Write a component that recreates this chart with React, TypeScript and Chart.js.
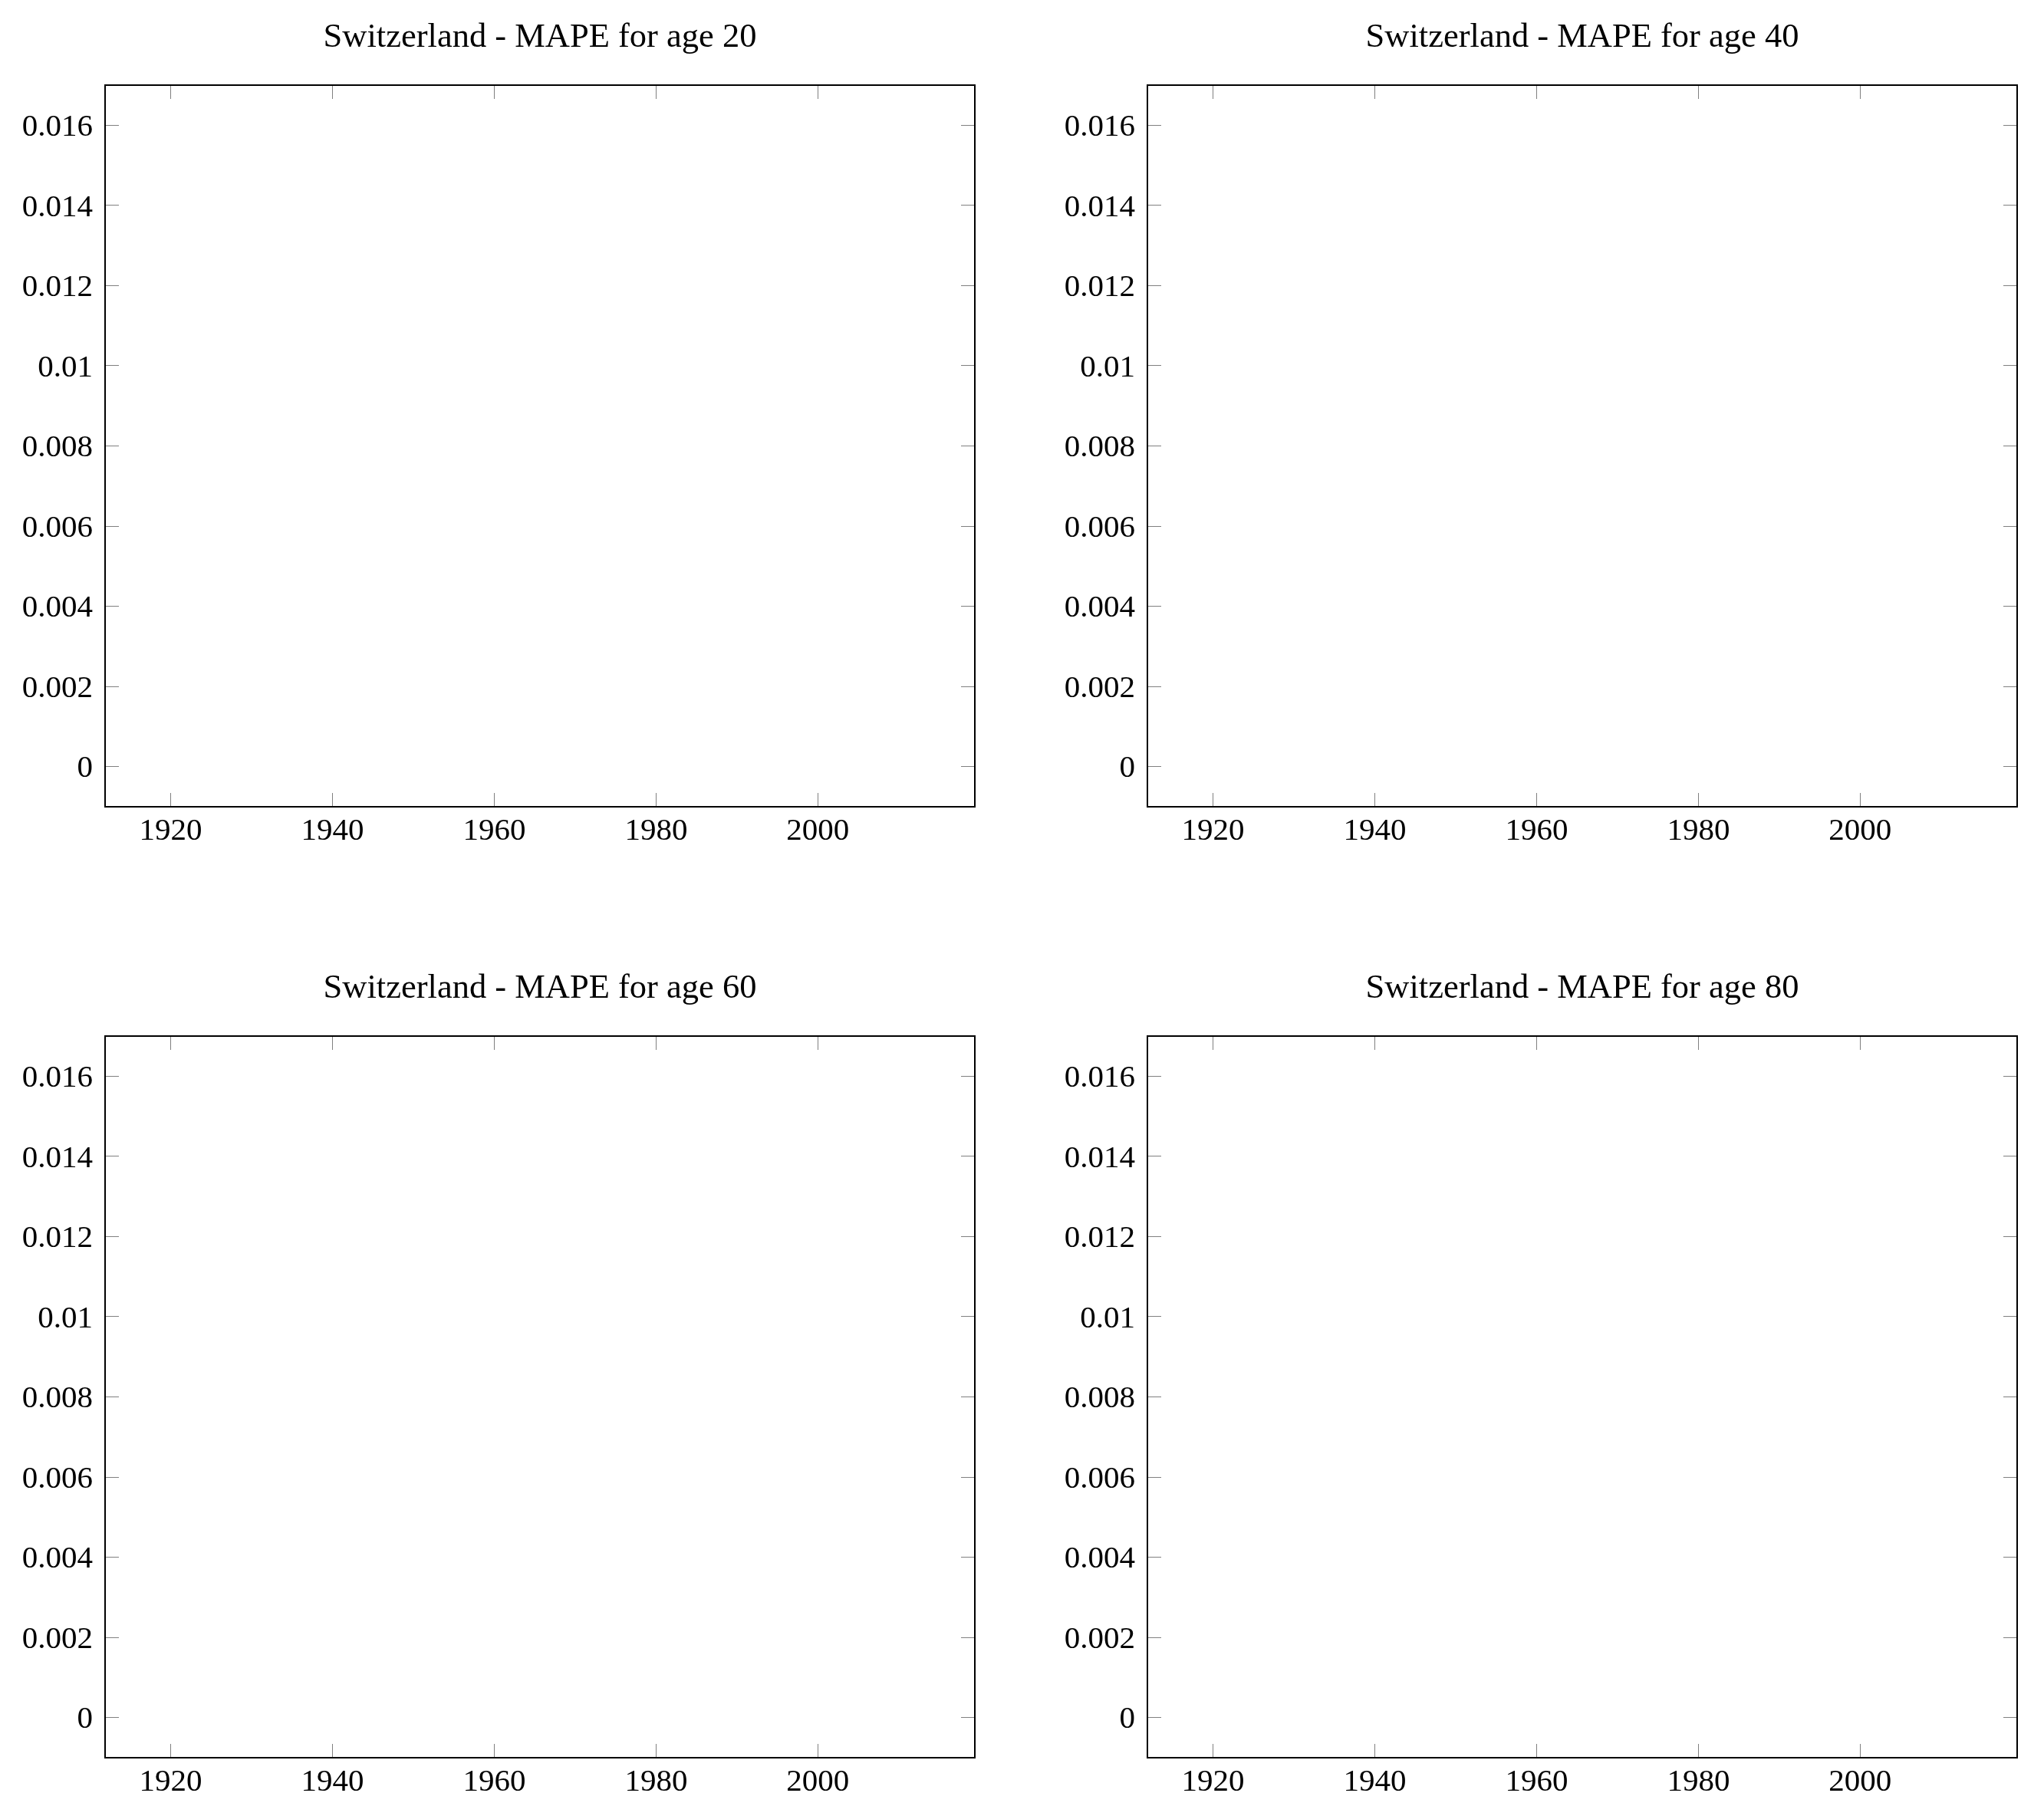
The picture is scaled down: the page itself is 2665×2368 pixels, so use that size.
import { useEffect, useRef } from "react";
import { Chart, registerables } from "chart.js";

Chart.register(...registerables);

// ---- data -------------------------------------------------------------
const COUNTRY = "Switzerland";
const AGES = [20, 40, 60, 80];

// Yearly MAPE series per age (no observations are drawn in these panels)
const mapeAge20: { x: number; y: number }[] = [];
const mapeAge40: { x: number; y: number }[] = [];
const mapeAge60: { x: number; y: number }[] = [];
const mapeAge80: { x: number; y: number }[] = [];
const SERIES = [mapeAge20, mapeAge40, mapeAge60, mapeAge80];

const YEAR_TICKS = [1920, 1940, 1960, 1980, 2000];
const MAPE_TICKS = [0, 0.002, 0.004, 0.006, 0.008, 0.01, 0.012, 0.014, 0.016];
const YEAR_RANGE = [1911.9, 2019.4];
const MAPE_RANGE = [-0.001, 0.017];

// ---- styling ----------------------------------------------------------
const SERIF = "'Liberation Serif', 'Times New Roman', serif";
const CANVAS_W = 1300;
const CANVAS_H = 1120;
const PANEL_POS = [
  { left: 0, top: 0 },
  { left: 1359, top: 0 },
  { left: 0, top: 1240 },
  { left: 1359, top: 1240 },
];

function MapePanel({ age, points }: { age: number; points: { x: number; y: number }[] }) {
  const ref = useRef<HTMLCanvasElement>(null);

  useEffect(() => {
    const canvas = ref.current;
    if (!canvas) return;

    const tickFont = { family: SERIF, size: 41, weight: "normal" as const };
    const frame = { display: true, color: "#000000", width: 2 };
    // inward-pointing grey tick marks, no grid lines across the plot
    const grid = {
      drawOnChartArea: false,
      drawTicks: true,
      tickLength: -18,
      color: "#808080",
      lineWidth: 1,
    };
    const useTicks = (values: number[]) => (scale: any) => {
      scale.ticks = values.map((v) => ({ value: v }));
    };

    const chart = new Chart(canvas, {
      type: "line",
      data: {
        datasets: [
          {
            label: `MAPE age ${age}`,
            data: points,
            borderColor: "#1f4e9c",
            backgroundColor: "#1f4e9c",
            borderWidth: 2,
            pointRadius: 0,
          },
        ],
      },
      options: {
        animation: false,
        responsive: false,
        events: [],
        layout: { padding: { top: 0, right: 29, bottom: 0, left: 0 } },
        plugins: {
          legend: { display: false },
          tooltip: { enabled: false },
          title: {
            display: true,
            fullSize: false,
            text: `${COUNTRY} - MAPE for age ${age}`,
            color: "#000000",
            font: { family: SERIF, size: 44.5, weight: "normal", lineHeight: 1.2 },
            padding: { top: 22.3, bottom: 35.3 },
          },
        },
        scales: {
          x: {
            type: "linear",
            position: "bottom",
            min: YEAR_RANGE[0],
            max: YEAR_RANGE[1],
            afterBuildTicks: useTicks(YEAR_TICKS),
            afterFit: (s: any) => {
              s.height = 68;
            },
            grid,
            border: frame,
            ticks: {
              font: tickFont,
              color: "#000000",
              padding: 26,
              maxRotation: 0,
              autoSkip: false,
              callback: (v: any) => String(v),
            },
          },
          xTop: {
            type: "linear",
            position: "top",
            min: YEAR_RANGE[0],
            max: YEAR_RANGE[1],
            afterBuildTicks: useTicks(YEAR_TICKS),
            afterFit: (s: any) => {
              s.height = 0;
            },
            grid,
            border: frame,
            ticks: { display: false },
          },
          y: {
            type: "linear",
            position: "left",
            min: MAPE_RANGE[0],
            max: MAPE_RANGE[1],
            afterBuildTicks: useTicks(MAPE_TICKS),
            afterFit: (s: any) => {
              s.width = 137;
            },
            grid,
            border: frame,
            ticks: {
              font: tickFont,
              color: "#000000",
              padding: 34,
              labelOffset: 3,
              autoSkip: false,
              callback: (v: any) => String(v),
            },
          },
          yRight: {
            type: "linear",
            position: "right",
            min: MAPE_RANGE[0],
            max: MAPE_RANGE[1],
            afterBuildTicks: useTicks(MAPE_TICKS),
            afterFit: (s: any) => {
              s.width = 0;
            },
            grid,
            border: frame,
            ticks: { display: false },
          },
        },
      } as any,
    });

    return () => chart.destroy();
  }, [age, points]);

  return <canvas ref={ref} width={CANVAS_W} height={CANVAS_H} style={{ display: "block" }} />;
}

export default function App() {
  return (
    <div style={{ position: "absolute", left: 0, top: 0, background: "#ffffff" }}>
      {AGES.map((age, i) => (
        <div
          key={age}
          style={{
            position: "absolute",
            left: PANEL_POS[i].left,
            top: PANEL_POS[i].top,
            width: CANVAS_W,
            height: CANVAS_H,
          }}
        >
          <MapePanel age={age} points={SERIES[i]} />
        </div>
      ))}
    </div>
  );
}
